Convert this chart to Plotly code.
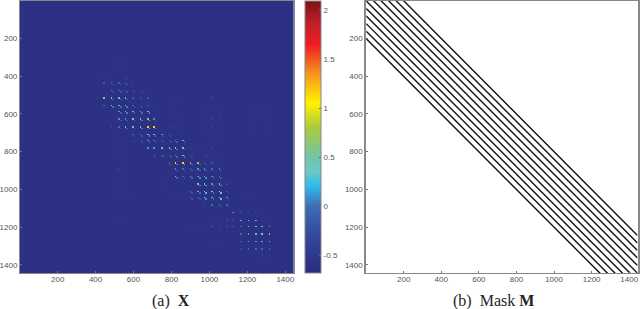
import plotly.graph_objects as go

SIZE = 1444
CELL = 8
COLS = [406, 444, 482, 520, 558, 596, 634, 672, 710, 748, 785, 823, 861, 899, 937, 975,
        1013, 1051, 1089, 1127, 1165, 1203, 1241, 1279, 1317]
BASE = -0.62
# row y -> (column index, head value, tail value)
SPOTS = {
    325: [(3, -.5, -.6)],
    363: [(3, -.45, -.6)],
    401: [(1, -.45, -.6), (4, -.3, -.35)],
    439: [(1, -.15, -.45), (2, -.1, -.25), (3, -.1, -.25), (4, -.1, -.25), (5, -.4, -.55)],
    477: [(2, .05, -.25), (3, -.05, -.2), (4, -.05, -.2), (5, -.2, -.35), (6, -.25, -.4), (7, -.4, -.55)],
    515: [(0, -.4, -.6), (1, .55, -.4), (2, .35, -.15), (3, .3, -.1), (4, .45, -.1), (5, -.15, -.3), (6, -.15, -.3), (7, -.15, -.3), (16, -.4, -.55), (11, -.5, -.6)],
    553: [(1, 0, -.4), (2, .5, 0), (3, .25, 0), (4, .25, .05), (5, -.1, -.25), (6, -.2, -.3), (7, -.2, -.3), (8, -.4, -.55)],
    591: [(3, .15, -.1), (4, .35, .05), (5, .3, 0), (6, .25, 0), (7, .55, .15), (10, -.45, -.6), (11, -.45, -.6), (15, -.4, -.55), (16, -.4, -.55), (17, -.4, -.55), (21, -.5, -.6), (22, -.5, -.6), (24, -.45, -.6)],
    629: [(3, .1, -.15), (4, .1, -.1), (5, .35, 0), (6, .45, .05), (7, .8, .15), (8, .1, -.1), (10, -.5, -.6), (11, -.5, -.6), (16, -.4, -.55), (17, -.4, -.55), (21, -.5, -.6)],
    667: [(2, -.3, -.5), (3, 0, -.3), (4, .35, -.1), (5, .35, 0), (6, .45, .05), (7, 1.15, .15), (8, 1.15, .1), (10, -.45, -.6), (11, -.45, -.6), (15, -.45, -.6), (16, -.45, -.6), (17, -.45, -.6), (21, -.5, -.6), (24, -.45, -.6)],
    705: [(5, -.05, -.25), (6, 0, -.15), (7, .55, .15), (8, .3, 0), (9, .15, -.15), (10, -.05, -.35), (16, -.5, -.6)],
    743: [(3, -.4, -.55), (4, -.4, -.55), (5, -.3, -.45), (6, -.2, -.3), (7, .15, -.15), (8, 0, -.2), (9, -.15, -.3), (10, -.2, -.3), (11, .1, -.15), (12, .3, -.15), (16, -.4, -.55), (17, -.45, -.6)],
    781: [(7, .15, -.4), (8, .15, -.2), (9, .3, 0), (10, .45, 0), (11, .45, .05), (12, .35, 0), (13, -.4, -.55), (15, -.45, -.6), (16, -.45, -.6), (3, -.5, -.6)],
    819: [(3, -.5, -.6), (8, -.15, -.3), (9, 0, -.2), (10, -.05, -.2), (11, .1, -.05), (12, .55, .05), (13, -.15, -.3), (15, -.2, -.4), (16, -.4, -.55), (17, -.45, -.6)],
    857: [(4, -.5, -.6), (10, -.05, -.3), (11, .95, .05), (12, 1.15, .15), (13, 1.35, 0), (14, .8, -.05), (15, -.15, -.3), (16, -.2, -.3), (17, -.4, -.55)],
    895: [(3, -.45, -.6), (4, -.45, -.6), (11, .1, -.15), (12, 0, -.15), (13, 0, -.15), (14, .15, -.05), (15, .1, -.05), (16, 0, -.2), (17, .1, -.2)],
    933: [(11, .7, -.05), (12, 0, -.2), (13, .25, 0), (14, .15, .1), (15, .25, .1), (16, .1, -.05), (17, 0, -.2)],
    971: [(3, -.45, -.6), (4, -.45, -.6), (9, -.5, -.6), (14, .55, .15), (15, .5, .25), (16, .15, .1), (17, .5, .15), (18, -.3, -.45)],
    1009: [(13, .1, -.2), (14, .25, -.05), (15, .6, .25), (16, .35, .05), (17, .85, .35), (18, -.15, -.3)],
    1047: [(3, -.4, -.6), (4, -.45, -.6), (5, -.5, -.6), (10, -.5, -.6), (11, -.45, -.6), (13, 0, -.2), (14, 0, -.2), (15, .95, .1), (16, .25, 0), (17, .7, .3), (18, .1, -.15), (20, -.45, -.6), (21, -.45, -.6)],
    1085: [(15, -.3, -.45), (16, 0, -.2), (17, 0, -.2), (18, 0, -.2)],
    1123: [(19, .1, -.6), (20, -.2, -.6), (21, -.2, -.6), (22, -.4, -.6)],
    1161: [(3, -.5, -.6), (16, -.4, -.6), (17, -.3, -.6), (18, -.15, -.6), (19, -.15, -.6), (20, .25, -.6), (21, .65, -.6), (22, .25, -.6), (23, -.4, -.6), (24, -.45, -.6)],
    1199: [(13, -.4, -.6), (14, -.45, -.6), (15, -.45, -.6), (16, -.15, -.6), (17, -.15, -.6), (18, -.15, -.6), (19, -.2, -.6), (20, 0, -.6), (21, .85, -.6), (22, .45, -.6), (23, .45, -.6), (24, .15, -.6)],
    1237: [(20, 0, -.6), (21, .15, -.6), (22, .3, -.6), (23, .35, -.6), (24, 1.3, -.6)],
    1275: [(16, -.4, -.6), (17, -.3, -.6), (20, -.1, -.6), (21, .15, -.6), (22, .15, -.6), (23, .2, -.6), (24, 1.3, -.6)],
    1313: [(20, -.3, -.6), (21, -.05, -.6), (22, -.05, -.6), (23, -.05, -.6), (24, -.05, -.6)],
    1351: [(23, -.5, -.6), (24, -.35, -.6)],
}
MASK_OFFSETS = [200, 160, 120, 80, 40, 0, -40, -80, -120, -160, -200]
TICKS = [200, 400, 600, 800, 1000, 1200, 1400]
CBAR_TICKS = [-0.5, 0, 0.5, 1, 1.5, 2]
CBAR_LABELS = ["-0.5", "0", "0.5", "1", "1.5", "2"]
ZMIN, ZMAX = -0.68, 2.09
COLOR_STOPS = [(-0.68, "#2a2d80"), (-0.3, "#34479c"), (0.0, "#3f6db3"), (0.2, "#2fb9ea"),
               (0.35, "#6cc8c8"), (0.5, "#70c6a6"), (0.8, "#a9ca3e"), (1.05, "#fff200"),
               (1.35, "#f7941d"), (1.65, "#ed1c24"), (1.85, "#c4202a"), (2.09, "#7a1216")]

n = SIZE // CELL + 1
z = [[BASE] * n for _ in range(n)]
for row, spots in SPOTS.items():
    for k, head, tail in spots:
        r, c = row // CELL, COLS[k] // CELL
        z[r][c] = head
        z[r + 1][c + 1] = tail
centers = [CELL * i + CELL / 2 for i in range(n)]
scale = [[(v - ZMIN) / (ZMAX - ZMIN), col] for v, col in COLOR_STOPS]

fig = go.Figure()
fig.add_trace(go.Heatmap(
    x=centers, y=centers, z=z, zmin=ZMIN, zmax=ZMAX, colorscale=scale, xaxis="x", yaxis="y",
    colorbar=dict(x=304 / 640, xanchor="left", y=1, yanchor="top", len=273 / 309, lenmode="fraction",
                  thickness=16, thicknessmode="pixels", xpad=0, ypad=0,
                  tickvals=CBAR_TICKS, ticktext=CBAR_LABELS, ticks="inside", ticklen=2,
                  tickcolor="#666", tickfont=dict(family="Liberation Sans", size=8, color="#555"),
                  outlinecolor="#888", outlinewidth=1),
))
for off in MASK_OFFSETS:
    fig.add_trace(go.Scatter(x=[1, SIZE], y=[1 + off, SIZE + off], mode="lines", xaxis="x2", yaxis="y2",
                             line=dict(color="#111", width=1.4), showlegend=False))

common = dict(tickvals=TICKS, ticks="inside", ticklen=2, tickcolor="#777", showgrid=False, zeroline=False,
              showline=True, linecolor="#888", linewidth=1, mirror=True,
              tickfont=dict(family="Liberation Sans", size=8, color="#555"))
top = 1.0
bottom = 1 - 273 / 309
fig.update_layout(
    width=640, height=309, margin=dict(l=0, r=0, t=0, b=0), autosize=False,
    paper_bgcolor="white", plot_bgcolor="white", showlegend=False,
    xaxis=dict(domain=[18 / 640, 293 / 640], range=[1, SIZE], anchor="y", ticklabelstandoff=-2, **common),
    yaxis=dict(domain=[bottom, top], range=[SIZE, 1], anchor="x", **common),
    xaxis2=dict(domain=[366 / 640, 638.5 / 640], range=[1, SIZE], anchor="y2", ticklabelstandoff=-2, **common),
    yaxis2=dict(domain=[bottom, top], range=[SIZE, 1], anchor="x2", **{**common, "linewidth": 2}),
    annotations=[
        dict(text="(a)  <b>X</b>", x=169.5 / 640, y=1 - 301 / 309, xref="paper", yref="paper",
             showarrow=False, xanchor="center", yanchor="middle",
             font=dict(family="Liberation Serif", size=16, color="#222")),
        dict(text="(b)  Mask <b>M</b>", x=494 / 640, y=1 - 301 / 309, xref="paper", yref="paper",
             showarrow=False, xanchor="center", yanchor="middle",
             font=dict(family="Liberation Serif", size=16, color="#222")),
    ],
)
fig.write_html("out.html", config={"displayModeBar": False},
               post_script="document.body.style.margin='0';document.documentElement.style.overflow='hidden';")
